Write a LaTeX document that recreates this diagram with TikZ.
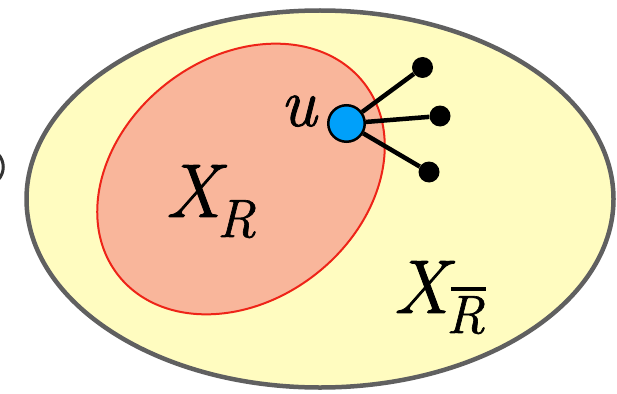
\documentclass[tikz,border=0pt]{standalone}
\usepackage{fontspec}
\newfontfamily\itf{Latin Modern Roman}[FakeBold=1.2]
\definecolor{outerfill}{RGB}{255,252,192}
\definecolor{outerline}{RGB}{96,96,96}
\definecolor{innerfill}{RGB}{249,182,155}
\definecolor{innerline}{RGB}{238,36,24}
\definecolor{ublue}{RGB}{0,160,250}
\begin{document}
\begin{tikzpicture}[x=1pt,y=-1pt,
  leaf/.style={circle,fill=black,inner sep=0pt,minimum size=21pt},
  edge/.style={line width=4.5pt,black},
  lab/.style={inner sep=0pt,anchor=base west,font=\fontsize{76}{76}\selectfont\itf\itshape},
  sub/.style={inner sep=0pt,anchor=base west,font=\fontsize{54}{54}\selectfont\itf\itshape}]
\useasboundingbox (0,0) rectangle (617,393);
% outer set
\coordinate (oc) at (320,199);
\draw[line width=4.5pt,draw=outerline,fill=outerfill] (oc) ellipse [x radius=293.5pt, y radius=188.5pt];
% inner set
\coordinate (ic) at (241,179);
\draw[line width=2pt,draw=innerline,fill=innerfill,rotate around={38:(ic)}] (ic) ellipse [x radius=156pt, y radius=121pt];
% vertex u and neighbours
\node[circle,draw=black,line width=2.5pt,fill=ublue,inner sep=0pt,minimum size=36.5pt] (u) at (346.5,123.5) {};
\node[leaf] (l1) at (422.5,67.5) {};
\node[leaf] (l2) at (440,116) {};
\node[leaf] (l3) at (429,172) {};
\draw[edge] (u) -- (l1);
\draw[edge] (u) -- (l2);
\draw[edge] (u) -- (l3);
% labels
\node[lab,font=\fontsize{69}{69}\selectfont\itf\itshape] (ulab) at (280,126) {u};
\node[lab] (xr) at (165,217) {X};
\node[sub] (xrs) at (217,237) {R};
\node[lab] (xrb) at (393,313) {X};
\node[sub] (xrbs) at (446,333) {R};
\coordinate (bar1) at (451,289);
\coordinate (bar2) at (486,289);
\draw[line width=4pt] (bar1) -- (bar2);
% clipped fragment at left edge
\coordinate (f1) at (-2,154);
\coordinate (f2) at (-2,180);
\draw[line width=3pt,color=black!80] (f1) .. controls (5,161) and (5,173) .. (f2);
\end{tikzpicture}
\end{document}
